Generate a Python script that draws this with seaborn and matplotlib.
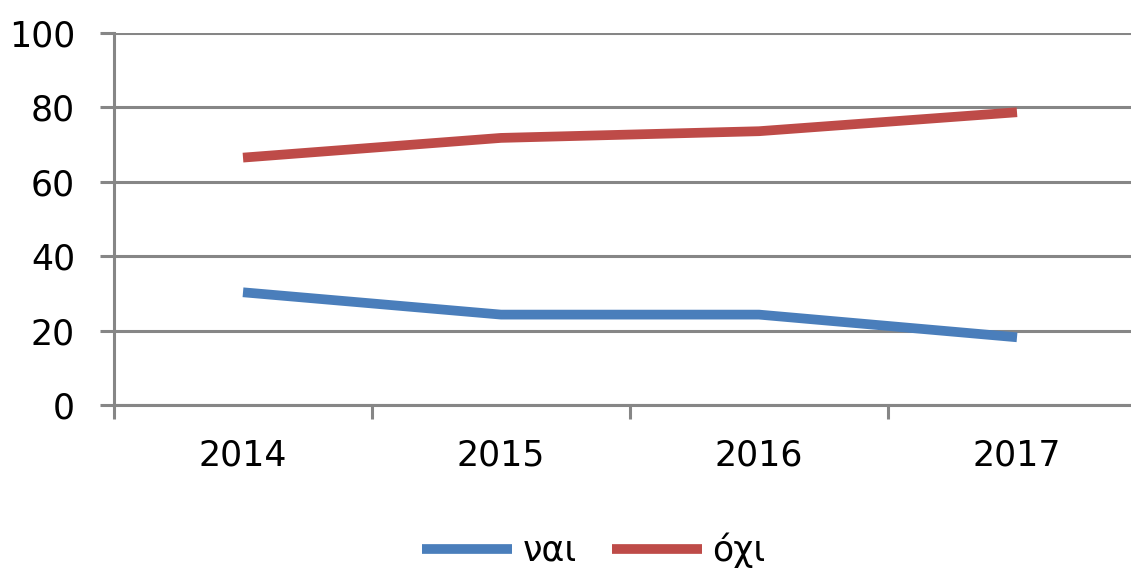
import matplotlib
matplotlib.use("Agg")
import matplotlib.pyplot as plt
import seaborn as sns
import pandas as pd

years = ["2014", "2015", "2016", "2017"]
nai = [30.3, 24.3, 24.3, 18.2]
ochi = [66.5, 71.8, 73.6, 78.7]
series_names = ["ναι", "όχι"]
colors = ["#4A7EBB", "#BE4B48"]

df = pd.DataFrame({
    "year": years * 2,
    "value": nai + ochi,
    "series": [series_names[0]] * 4 + [series_names[1]] * 4,
})
df["x"] = [0, 1, 2, 3] * 2

sns.set_style("white")
plt.rcParams["font.family"] = ["DejaVu Sans"]
plt.rcParams["text.color"] = "black"
plt.rcParams["xtick.color"] = "black"
plt.rcParams["ytick.color"] = "black"
grey = "#868686"

fig = plt.figure(figsize=(11.31, 5.72), dpi=100)
# axes spans 114..1146 px horizontally, 33..405 px vertically
ax = fig.add_axes([114 / 1131, (572 - 405) / 572, 1032 / 1131, 372 / 572])

sns.lineplot(data=df, x="x", y="value", hue="series", palette=colors,
             linewidth=7, ax=ax, legend=False, sort=False,
             solid_capstyle="butt")

ax.set_xlim(-0.5, 3.5)
ax.set_ylim(0, 100)
ax.set_yticks(range(0, 101, 20))
ax.yaxis.grid(True, color=grey, linewidth=2.2)
ax.set_axisbelow(True)
ax.set_xticks([-0.5, 0.5, 1.5, 2.5, 3.5])
ax.set_xticklabels([])
ax.set_xticks([0, 1, 2, 3], minor=True)
ax.set_xticklabels(years, minor=True)
ax.tick_params(axis="x", which="major", bottom=True, length=10, width=2.2,
               color=grey, direction="out")
ax.tick_params(axis="x", which="minor", bottom=True, length=0, pad=24,
               labelsize=25, labelcolor="black")
ax.tick_params(axis="y", left=True, length=10, width=2.2, color=grey,
               direction="out", pad=18, labelsize=25, labelcolor="black")
ax.set_xlabel("")
ax.set_ylabel("")
for side in ["top", "right"]:
    ax.spines[side].set_visible(False)
for side in ["left", "bottom"]:
    ax.spines[side].set_color(grey)
    ax.spines[side].set_linewidth(2.2)

handles = [plt.Line2D([], [], color=c, linewidth=7, solid_capstyle="butt") for c in colors]
fig.legend(handles, series_names, loc="center", bbox_to_anchor=(0.525, 1 - 550 / 572),
           ncol=2, frameon=False, fontsize=25, handlelength=2.6, handletextpad=0.3,
           columnspacing=1.0)

fig.savefig("out.png", dpi=100)
